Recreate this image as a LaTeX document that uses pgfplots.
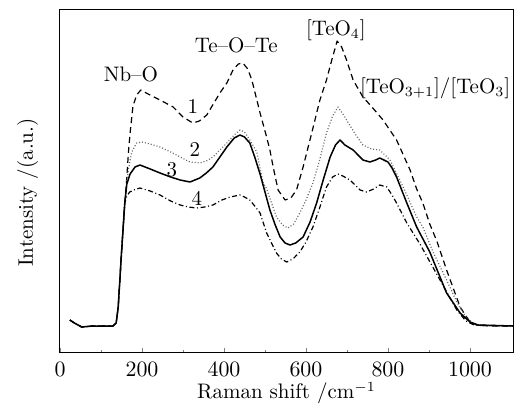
\documentclass[border=0pt]{standalone}
\usepackage{pgfplots}
\pgfplotsset{compat=1.18}

\begin{document}
\begin{tikzpicture}[font=\fontsize{10.5}{12.5}\selectfont]
  \begin{axis}[
    name=ax,
    scale only axis,
    width=226.5pt, height=171.5pt,
    xmin=0, xmax=1105, ymin=0, ymax=343,
    xtick={0,200,...,1000},
    minor xtick={100,300,...,900},
    ytick=\empty,
    xtick pos=bottom,
    tick align=inside,
    major tick length=2.2pt,
    minor tick length=1.2pt,
    /pgf/number format/1000 sep={},
    xticklabel style={yshift=-1.5pt},
    axis line style={line width=0.5pt},
    xlabel={Raman shift /cm$^{-1}$},
    ylabel={Intensity /(a.u.)},
    xlabel style={at={(axis description cs:0.5,-0.137)}, anchor=base},
    ylabel style={at={(axis description cs:-0.06,0.465)}, anchor=base, rotate=0},
    every axis plot/.append style={line join=round},
  ]

  % 1
  \addplot[black, line width=0.6pt, dash pattern=on 3pt off 2pt] coordinates {
    (24,32) (35,29) (53,25) (80,26) (100,26) (129,26) (137,29) (142,45)
    (150,99) (158,149) (163,175) (167,200) (171,219) (178,246) (187,257)
    (197,262) (215,258) (244,252) (276,245) (300,235) (324,229) (340,231)
    (358,237) (390,259) (407,269) (422,282) (435,288) (446,289) (458,283)
    (468,272) (488,239) (504,215) (512,202) (520,185) (532,162) (549,152)
    (563,154) (577,162) (593,185) (614,219) (634,252) (650,272) (663,292)
    (676,311) (687,305) (699,292) (715,272) (739,255) (763,244) (788,232)
    (821,212) (854,182) (870,163) (885,149) (902,128) (920,110) (943,82)
    (976,45) (1000,30) (1016,27) (1050,26) (1105,26)
  };

  % 2
  \addplot[black!60, line width=0.6pt, dash pattern=on 0.5pt off 1pt] coordinates {
    (24,32) (35,29) (53,25) (80,26) (100,26) (129,26) (137,29) (142,45)
    (150,99) (158,149) (163,172) (168,185) (175,200) (187,209) (200,210)
    (220,208) (244,205) (270,200) (293,195) (317,190) (341,189) (357,191)
    (373,195) (390,202) (407,209) (425,217) (439,222) (450,220) (463,212)
    (480,200) (495,170) (504,163) (528,135) (543,127) (556,124) (570,128)
    (585,139) (600,152) (617,169) (634,193) (650,219) (665,236) (678,245)
    (690,238) (699,232) (720,218) (739,207) (760,203) (780,202) (805,192)
    (837,165) (870,135) (885,125) (910,100) (943,72) (968,50) (990,35)
    (1010,28) (1030,26) (1105,26)
  };

  % 3
  \addplot[black, line width=0.75pt] coordinates {
    (24,32) (35,29) (53,25) (80,26) (100,26) (129,26) (137,29) (142,45)
    (150,99) (158,149) (163,168) (171,178) (183,185) (195,187) (220,183)
    (244,179) (270,175) (293,172) (317,170) (341,174) (357,179) (373,185)
    (390,195) (407,205) (425,214) (439,217) (450,215) (463,209) (475,195)
    (488,178) (500,160) (512,142) (525,127) (537,115) (549,109) (561,107)
    (575,109) (593,115) (610,130) (626,149) (642,172) (659,195) (672,207)
    (683,212) (695,207) (715,202) (739,192) (756,190) (770,192) (780,194)
    (790,192) (800,190) (810,184) (821,175) (846,149) (870,125) (902,100)
    (943,59) (976,39) (1000,30) (1020,27) (1105,26)
  };

  % 4
  \addplot[black, line width=0.6pt, dash pattern=on 2.5pt off 1.3pt on 0.5pt off 1.3pt] coordinates {
    (24,32) (35,29) (53,25) (80,26) (100,26) (129,26) (137,29) (142,45)
    (150,99) (158,149) (163,156) (170,160) (180,162) (195,164) (220,161)
    (244,157) (270,151) (293,147) (313,145) (333,144) (353,145) (373,147)
    (395,152) (415,155) (439,157) (450,155) (463,152) (475,146) (488,139)
    (504,119) (528,99) (540,93) (553,90) (568,93) (585,100) (600,110)
    (617,125) (634,145) (650,165) (665,175) (678,178) (690,176) (707,172)
    (720,167) (732,162) (748,160) (765,163) (780,167) (797,165) (810,157)
    (821,149) (846,129) (878,108) (927,72) (968,42) (990,31) (1010,27)
    (1105,26)
  };

  \node at (axis cs:173,278) {Nb--O};
  \node at (axis cs:430,307) {Te--O--Te};
  \node[anchor=base] at (axis cs:673,317) {[TeO$_4$]};
  \node[anchor=base] at (axis cs:915,259) {[TeO$_{3+1}$]/[TeO$_3$]};
  \node at (axis cs:324,245) {1};
  \node at (axis cs:329,202) {2};
  \node at (axis cs:273,182) {3};
  \node at (axis cs:334,154) {4};
  \end{axis}
  \pgfresetboundingbox
  \path[use as bounding box] ([shift={(-30pt,-25.5pt)}]ax.south west) rectangle ([shift={(1pt,4.5pt)}]ax.north east);
\end{tikzpicture}
\end{document}
